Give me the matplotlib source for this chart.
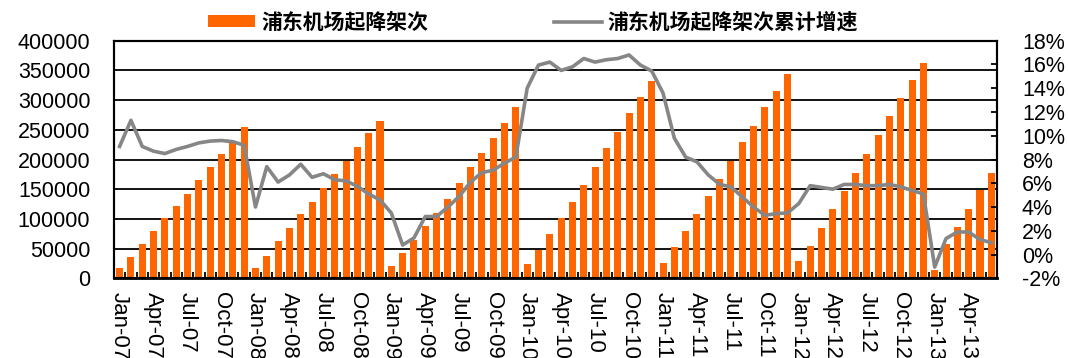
import matplotlib.pyplot as plt
from matplotlib.patches import Patch
from matplotlib.lines import Line2D
from matplotlib.font_manager import FontProperties

# Switch to Agg backend, no display here
plt.switch_backend('agg')

# Monthly categories, Jan-07 .. Jun-13
years = ['07', '08', '09', '10', '11', '12', '13']
month_names = ['Jan', 'Feb', 'Mar', 'Apr', 'May', 'Jun',
               'Jul', 'Aug', 'Sep', 'Oct', 'Nov', 'Dec']

# Cumulative take-offs/landings at Pudong airport (bars)
flights_2007 = [18000, 36000, 57000, 80000, 101000, 121000, 142000, 165000, 188000, 209000, 231000, 254000]
flights_2008 = [18000, 38000, 62000, 85000, 108000, 129000, 152000, 175000, 198000, 221000, 244000, 265000]
flights_2009 = [21000, 42000, 64000, 88000, 110000, 134000, 160000, 188000, 211000, 237000, 262000, 288000]
flights_2010 = [24000, 47000, 75000, 101000, 129000, 157000, 188000, 219000, 247000, 278000, 306000, 332000]
flights_2011 = [26000, 52000, 80000, 109000, 139000, 167000, 198000, 229000, 257000, 288000, 316000, 344000]
flights_2012 = [29000, 54000, 85000, 116000, 147000, 178000, 209000, 242000, 273000, 303000, 334000, 362000]
flights_2013 = [14000, 57000, 87000, 117000, 148000, 178000]

# Cumulative growth rate, % (line, right axis)
growth_2007 = [9.1, 11.3, 9.1, 8.7, 8.5, 8.85, 9.1, 9.4, 9.55, 9.6, 9.5, 9.2]
growth_2008 = [4.0, 7.4, 6.1, 6.7, 7.6, 6.5, 6.8, 6.3, 6.2, 5.75, 5.1, 4.6]
growth_2009 = [3.5, 0.8, 1.4, 3.2, 3.2, 4.0, 4.9, 6.1, 6.9, 7.1, 7.7, 8.2]
growth_2010 = [14.0, 15.95, 16.2, 15.5, 15.8, 16.5, 16.2, 16.4, 16.5, 16.8, 15.95, 15.45]
growth_2011 = [13.6, 9.8, 8.2, 7.8, 6.7, 5.9, 5.7, 4.85, 4.0, 3.3, 3.45, 3.5]
growth_2012 = [4.3, 5.8, 5.65, 5.5, 5.9, 5.9, 5.8, 5.8, 5.9, 5.7, 5.4, 5.1]
growth_2013 = [-1.05, 1.35, 1.9, 1.9, 1.26, 1.0]

flights = (flights_2007 + flights_2008 + flights_2009 + flights_2010
           + flights_2011 + flights_2012 + flights_2013)
growth = (growth_2007 + growth_2008 + growth_2009 + growth_2010
          + growth_2011 + growth_2012 + growth_2013)
month_labels = [f'{m}-{y}' for y in years for m in month_names][:len(flights)]

bar_label = '浦东机场起降架次'
line_label = '浦东机场起降架次累计增速'

ORANGE = '#FF6600'
GREY = '#868686'

plt.rcParams['font.family'] = ['Liberation Sans', 'DejaVu Sans']

fig = plt.figure(figsize=(10.68, 3.58), dpi=100)
ax = fig.add_axes([0.1067, 0.2226, 0.8268, 0.6637])

x = list(range(len(flights)))

# bars + black gridlines behind them
ax.set_axisbelow(True)
ax.yaxis.grid(True, color='black', linewidth=1.3)
ax.bar(x, flights, width=0.62, color=ORANGE)

ax.set_xlim(-0.5, len(flights) - 0.5)
ax.set_ylim(0, 400000)
ax.set_yticks(range(0, 400001, 50000))

# label every third month, small inward ticks between every month
ax.set_xticks(x[::3])
ax.set_xticklabels(month_labels[::3])
ax.set_xticks([i - 0.5 for i in range(1, len(flights))], minor=True)
ax.tick_params(axis='x', which='major', length=0, rotation=-90, pad=10, labelsize=16)
ax.tick_params(axis='x', which='minor', direction='in', length=4, width=1.3)
ax.tick_params(axis='y', length=0, pad=17, labelsize=15.5)

for spine in ax.spines.values():
    spine.set_linewidth(1.5)
ax.spines['bottom'].set_linewidth(2)

# growth line on the right axis
ax2 = ax.twinx()
ax2.plot(x, growth, color=GREY, linewidth=2.6)
ax2.set_ylim(-2, 18)
ax2.set_yticks(range(-2, 19, 2))
ax2.set_yticklabels([f'{v}%' for v in range(-2, 19, 2)])
ax2.tick_params(axis='y', direction='in', length=4, width=1.3, pad=18, labelsize=15.5)
for spine in ax2.spines.values():
    spine.set_linewidth(1.5)

# legend on top
legend_font = FontProperties(family=['Noto Sans CJK SC', 'DejaVu Sans'], weight='bold', size=15)
handles = [Patch(facecolor=ORANGE, edgecolor='none', label=bar_label),
           Line2D([0], [0], color=GREY, linewidth=2.6, label=line_label)]
fig.legend(handles=handles, loc='center', bbox_to_anchor=(0.499, 0.938), ncol=2,
           frameon=False, prop=legend_font, handlelength=2.3, handleheight=0.5,
           handletextpad=0.3, columnspacing=6.0)

plt.savefig('out.png', dpi=100)
plt.close()
